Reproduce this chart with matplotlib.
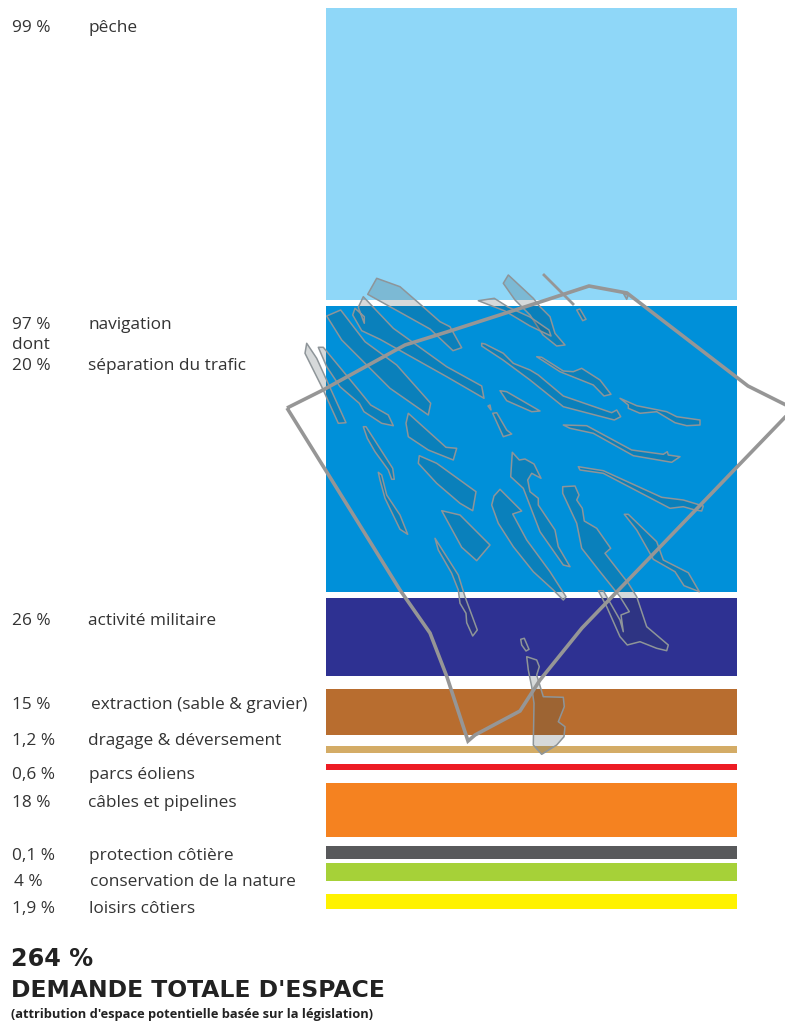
from matplotlib import pyplot as plt
from matplotlib.patches import Polygon

plt.rcParams['font.family'] = ['Open Sans', 'DejaVu Sans']

# demand per use, as printed
PERCENTS = ['99 %', '97 %', 'dont', '20 %', '26 %', '15 %', '1,2 %', '0,6 %', '18 %', '0,1 %', '4 %', '1,9 %']
USES = ['pêche', 'navigation', '', 'séparation du trafic', 'activité militaire',
        'extraction (sable & gravier)', 'dragage & déversement', 'parcs éoliens',
        'câbles et pipelines', 'protection côtière', 'conservation de la nature', 'loisirs côtiers']
TEXT_Y = [27, 324, 344, 365, 620, 704, 740, 774, 802, 855, 881, 908]
PERCENT_X = [12, 12, 12, 12, 12, 12, 12, 12, 12, 12, 14, 12]
USE_X = [88, 88, 88, 88, 88, 91, 88, 89, 88, 89, 90, 89]

# bands, in picture pixels
BAND_TOP = [8, 306, 598, 689, 746, 764, 783, 846, 863, 894]
BAND_BOTTOM = [300, 592, 676, 735, 753, 770, 837, 859, 881, 909]
BAND_COLORS = ['#8FD7F8', '#0090D9', '#2E3192', '#B86D2F', '#D4AC66',
               '#ED1C24', '#F58220', '#58595B', '#A6D138', '#FFF200']

# outline of the sea area
SEA_OUTLINE = [(287, 408), (323, 390), (405, 345), (450, 331), (540, 302), (589, 286), (627, 293),
               (748, 386), (792, 408), (792, 410), (737, 467), (582, 628), (540, 680), (520, 711),
               (475, 735), (468, 741), (447, 677), (430, 633), (400, 590)]
STRAY_LINE = [(544, 275), (573, 304)]

# traffic separation zones
ZONE_A = [(376.7, 278.3), (400, 286.7), (423, 306.7), (440, 321.7), (450, 326.7), (461.7, 347.7),
          (453, 350.7), (430, 329), (390, 306.7), (367.7, 294.3)]
ZONE_B = [(363.3, 296.7), (393.3, 328.3), (446.7, 366.7), (481.7, 386), (484, 398.3), (446.7, 376.7),
          (380, 339.3), (361.7, 330.7), (352.7, 315), (355, 308.3), (364.3, 316.7), (364.3, 323.3),
          (358.3, 307.3)]
ZONE_C = [(326.7, 316), (340.7, 310), (365, 341.7), (396.7, 365), (430.7, 403.3), (428.3, 415),
          (390, 388.3), (341.7, 340)]
ZONE_D = [(306.7, 343.3), (316.7, 358.3), (346, 422.7), (338.3, 423.3), (321.7, 386.7), (305, 353.3)]
ZONE_E = [(318.3, 347.3), (323.3, 347.3), (360, 391.7), (370.7, 405), (388.3, 415), (393.3, 425.7),
          (381.7, 423.3), (364, 411.7), (359.3, 403.3), (340, 386.7), (326.7, 366.7)]
ZONE_F = [(363.3, 426.7), (366, 426.7), (392.7, 468.3), (394.3, 479.3), (391.7, 479.3), (388.3, 470),
          (375, 451.7), (367.3, 438.3)]
ZONE_G = [(408.3, 413.3), (446, 447.3), (456.7, 448.3), (453.3, 460), (428.3, 450), (408.3, 436.7),
          (406, 423.3)]
ZONE_H = [(419.3, 455.7), (436.7, 463.3), (476, 491.7), (472.7, 510.7), (460, 503.3), (436.7, 483.3),
          (418.3, 463.3)]
ZONE_I = [(378.3, 472.3), (381.7, 475), (386.7, 495), (400, 515), (407.7, 534.3), (400, 529.3),
          (385, 498.3), (380, 480)]
ZONE_J = [(441.7, 510.7), (460, 515), (490, 545), (476.7, 560.7), (461.7, 547.3)]
ZONE_K = [(435, 538.3), (458.3, 575), (465, 596.7), (477.3, 630), (472.7, 636), (466.7, 622.7),
          (466, 613.3), (460, 603.3), (458.3, 590), (451.7, 573.3), (438.3, 550)]
ZONE_L = [(500, 489.3), (521.7, 511), (512.7, 514), (526.7, 540), (550, 571.7), (566, 596.7),
          (563.3, 600), (553.3, 590), (533.3, 571.7), (513.3, 546.7), (498.3, 523.3), (491.7, 505),
          (494, 496)]
ZONE_M = [(512.3, 452.3), (519.3, 460), (525, 459), (534, 464), (541, 478.3), (531.7, 473.3),
          (527.7, 480), (530, 491.7), (538.3, 498.3), (538.3, 505), (555, 530), (558.3, 546.7),
          (570, 566.7), (563.3, 565), (540, 531.7), (523.3, 488.3), (510.7, 476.7)]
ZONE_N = [(562.7, 486.7), (575, 486), (579, 495), (576.7, 500), (582.3, 508.3), (584.3, 521),
          (596.7, 528.3), (610.7, 548.3), (605, 553.3), (628.3, 583.3), (636.7, 596.7), (646.7, 626.7),
          (668.3, 645), (666.7, 650.7), (656.7, 648.3), (640, 641.7), (627.3, 645), (620, 636.7),
          (606.7, 606.7), (598.3, 590.7), (603.3, 590.7), (620, 620), (623.3, 631.7), (621, 615),
          (629.3, 611.7), (620, 596.7), (600, 571.7), (581.7, 548.3), (576.7, 523.3), (562.7, 493.3)]
ZONE_O = [(624.3, 514.3), (628.3, 514.3), (656.7, 541.7), (663.3, 560), (688.3, 572.7), (699.3, 591.7),
          (684, 585.7), (675, 571.7), (653.3, 559.3), (636.7, 530)]
ZONE_P = [(578.3, 466.7), (603.3, 470.7), (661.7, 497.3), (683.3, 500), (703.3, 506), (701.7, 511),
          (695, 510), (683.3, 506.7), (670, 508.3), (603.3, 473.3), (580, 470)]
ZONE_Q = [(536.7, 356.7), (541.7, 357.3), (563.3, 371), (573.3, 371.7), (581.7, 368.3), (600, 380),
          (611, 394.3), (604, 396), (593.3, 385), (560, 371.7)]
ZONE_R = [(481.7, 343.3), (485, 344), (503.3, 353.3), (513.3, 363.3), (530, 370), (538.3, 375),
          (563.3, 396), (611.7, 412.7), (616.7, 410), (620.7, 416.7), (614.3, 420), (563.3, 406.7),
          (530, 380), (503, 360), (481.7, 346)]
ZONE_S = [(500, 390.7), (506.7, 391.7), (540, 411), (531.7, 411.7), (506.7, 400.7)]
ZONE_T = [(488, 406), (490, 405), (491, 410)]
ZONE_U = [(492.7, 413.3), (496.7, 412.7), (506.7, 430), (511.7, 434), (503.3, 436.7)]
ZONE_V = [(620, 398.3), (636.7, 405.7), (666.7, 411.7), (676.7, 416.7), (700, 420), (700, 425),
          (686.7, 425.7), (675, 422.7), (656.7, 411.7), (640, 413.3), (628.3, 408.3), (628.3, 405)]
ZONE_W = [(563.3, 425), (586.7, 425.7), (631.7, 450), (663.3, 454.3), (667.3, 451.7), (668.3, 455),
          (680, 456.7), (671.7, 462.3), (633.3, 455.7), (593.3, 433.3), (570, 428.3)]
ZONE_X = [(503.3, 283.3), (508.3, 275), (533.3, 298.3), (540, 306.7), (550, 316.7), (555, 333.3),
          (565, 345), (556.7, 346), (543, 335), (530, 315), (515, 300)]
ZONE_Y = [(478.3, 300.7), (494.3, 298.3), (508, 307), (530, 317), (549, 330), (551, 336), (530, 326),
          (505, 311)]
ZONE_Z = [(576.7, 310), (580, 309), (586, 319.3), (582.7, 320.7)]
ZONE_TICK = [(623.3, 293.3), (628.3, 295), (626.7, 299.3)]
ZONE_OVAL = [(520.7, 639.3), (524.3, 638.3), (529, 649.3), (526, 651), (521.7, 645)]
ZONE_SOUTH = [(526.7, 656.7), (536.7, 660), (539.3, 666.7), (536.7, 675), (543.3, 696.7), (563.3, 697.3),
              (564.3, 706.7), (558.3, 721.7), (565, 726.7), (564, 736.7), (556.7, 745), (541.7, 754.3),
              (533.3, 745), (534, 703.3), (531.7, 686.7), (528.3, 670)]
ZONES = [ZONE_A, ZONE_B, ZONE_C, ZONE_D, ZONE_E, ZONE_F, ZONE_G, ZONE_H, ZONE_I, ZONE_J, ZONE_K, ZONE_L,
         ZONE_M, ZONE_N, ZONE_O, ZONE_P, ZONE_Q, ZONE_R, ZONE_S, ZONE_T, ZONE_U, ZONE_V, ZONE_W, ZONE_X,
         ZONE_Y, ZONE_Z, ZONE_TICK, ZONE_OVAL, ZONE_SOUTH]

TEXT_COLOR = '#333333'
LINE_COLOR = '#969696'


def main():
    fig = plt.figure(figsize=(7.85, 10.21), dpi=100)
    ax = fig.add_axes([0, 0, 1, 1])
    ax.set_xlim(0, 785)
    ax.set_ylim(1021, 0)
    ax.axis('off')

    for top, bottom, color in zip(BAND_TOP, BAND_BOTTOM, BAND_COLORS):
        ax.bar(325.5, bottom - top, width=411, bottom=top, align='edge', color=color, linewidth=0)

    for zone in ZONES:
        ax.add_patch(Polygon(zone, closed=True, facecolor=(0.2, 0.26, 0.28, 0.2),
                             edgecolor='#8E9599', linewidth=1.1, joinstyle='round'))

    ax.add_patch(Polygon(SEA_OUTLINE, closed=True, fill=False, edgecolor=LINE_COLOR, linewidth=2.6,
                         joinstyle='miter'))
    ax.plot(*zip(*STRAY_LINE), color=LINE_COLOR, linewidth=2.0)

    for pct, use, y, xp, xu in zip(PERCENTS, USES, TEXT_Y, PERCENT_X, USE_X):
        ax.text(xp, y + 1, pct, color=TEXT_COLOR, fontsize=12.4, va='center')
        ax.text(xu, y + 1, use, color=TEXT_COLOR, fontsize=12.4, va='center')

    title_font = ['DejaVu Sans']
    ax.text(11, 959, '264 %', color='#222222', fontsize=17.2, fontweight='bold', va='center', family=title_font)
    ax.text(11, 990, "DEMANDE TOTALE D'ESPACE", color='#222222', fontsize=16.9, fontweight='bold', va='center',
            family=title_font)
    ax.text(11, 1014, "(attribution d'espace potentielle basée sur la législation)", color='#222222',
            fontsize=9.3, fontweight='bold', va='center')

    plt.savefig('out.png', dpi=100)


if __name__ == '__main__':
    main()
